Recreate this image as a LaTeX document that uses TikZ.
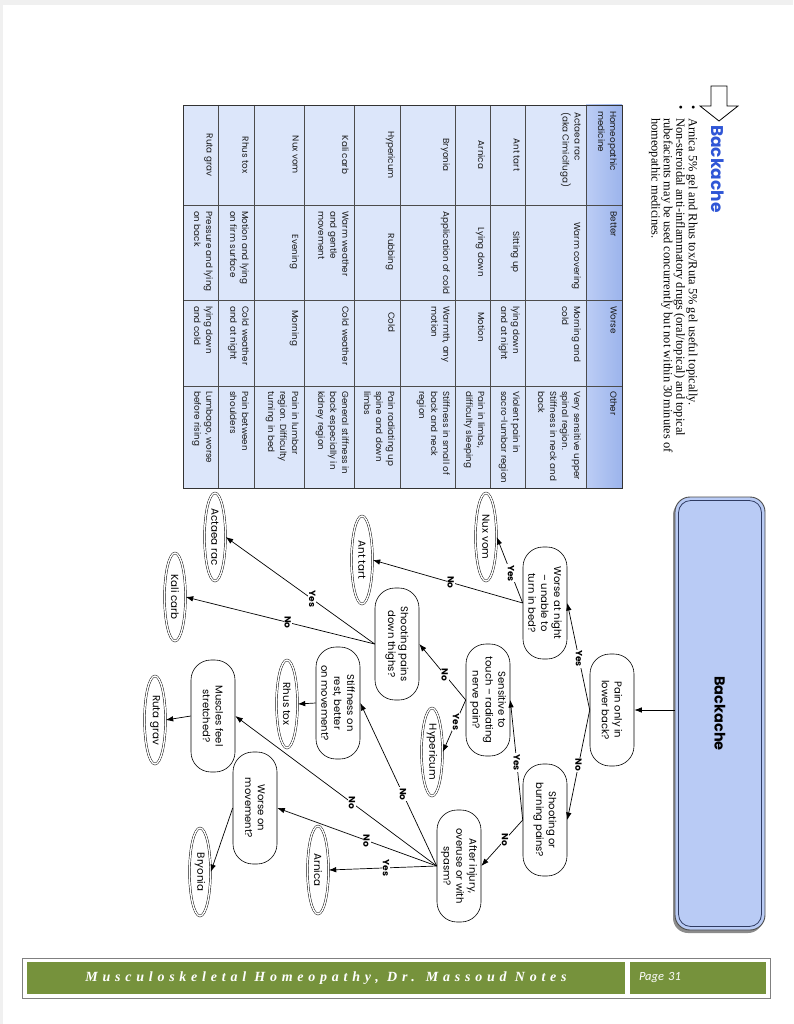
\documentclass[tikz,border=0pt]{standalone}
\usepackage{fontspec}
\setmainfont{Liberation Serif}
\newfontfamily\geo{Poppins}
\newfontfamily\footfont[LetterSpace=34]{Liberation Serif}
\newfontfamily\pagefont{Carlito}
\usetikzlibrary{arrows.meta,shapes.geometric,calc}
\definecolor{cellblue}{HTML}{DCE6FA}
\definecolor{headA}{HTML}{BCCDF5}
\definecolor{headB}{HTML}{9CB4EC}
\definecolor{panelblue}{HTML}{B9CBF5}
\definecolor{panelnavy}{HTML}{2F3B62}
\definecolor{headingblue}{HTML}{2F56D6}
\definecolor{footgreen}{HTML}{76923C}
\newcommand\tcl[4]{\node[tc,anchor=north west] (#1) at (#2,#3) {#4};}
\newcommand\tcc[4]{\node[tc,anchor=north] (#1) at (#2,#3) {#4};}
\tikzset{
  q/.style={draw, line width=0.6pt, fill=white, rounded corners=20pt, rotate=-90,
    minimum width=112pt, minimum height=44pt, inner sep=1pt, align=center,
    font=\geo\fontsize{10}{12.8}\selectfont},
  med/.style={ellipse, draw, line width=0.45pt, double, double distance=1.4pt, rotate=-90,
    minimum width=88pt, minimum height=21pt, inner sep=0pt,
    font=\geo\fontsize{10.3}{11}\selectfont},
  lab/.style={fill=white, inner sep=0.8pt, rotate=-90,
    font=\geo\bfseries\fontsize{9}{10}\selectfont},
  arr/.style={-{Latex[length=7.5pt,width=5.5pt]}, line width=0.7pt},
  tc/.style={rotate=-90, inner sep=0pt, align=left, text=black!90,
    font=\geo\fontsize{8.8}{12}\selectfont},
  bl/.style={rotate=-90, anchor=west, inner sep=0pt, font=\fontsize{12.4}{12.5}\selectfont}
}
\begin{document}
\begin{tikzpicture}[x=1pt,y=-1pt]
\useasboundingbox (0,0) rectangle (793,1024);
\fill[white] (0,0) rectangle (793,1024);
\fill[black!6] (0,0) rectangle (793,5);
\fill[black!6] (0,0) rectangle (3,1024);

% heading arrow and title
\draw[line width=0.8pt, fill=white] (711,86) -- (727,86) -- (727,106) -- (738,106)
  -- (719,121) -- (700,106) -- (711,106) -- cycle;
\node[rotate=-90, anchor=west, inner sep=0pt, text=headingblue,
  font=\geo\bfseries\fontsize{17}{20}\selectfont] (head) at (718,125) {Backache};

% bullets
\node[rotate=-90, inner sep=0pt, font=\fontsize{12}{12}\selectfont] (d1) at (692,108) {\textbullet};
\node[rotate=-90, inner sep=0pt, font=\fontsize{12}{12}\selectfont] (d2) at (679.5,108) {\textbullet};
\node[bl] (b1) at (692,118) {Arnica 5\% gel and Rhus tox/Ruta 5\% gel useful topically.};
\node[bl] (b2) at (679.5,118) {Non-steroidal anti-inflammatory drugs (oral/topical) and topical};
\node[bl] (b3) at (667,118) {rubefacients may be used concurrently but not within 30\,minutes of};
\node[bl] (b4) at (654.5,118) {homeopathic medicines.};

% table
\fill[cellblue] (183,105) rectangle (586,488);
\shade[left color=headA, right color=headB] (586,105) rectangle (622,488);
\foreach \xx in {218,254,304,354,400,455,490,525,586}
  \draw[black!70, line width=0.5pt] (\xx,105) -- (\xx,488);
\foreach \yy in {205,300,386}
  \draw[black!70, line width=0.5pt] (183,\yy) -- (622,\yy);
\draw[black!80, line width=0.8pt] (183,105) rectangle (622,488);

\tcl{h1}{617}{111}{Homeopathic\\medicine}
\tcl{h2}{617}{211}{Better}
\tcl{h3}{617}{306}{Worse}
\tcl{h4}{617}{391}{Other}
\tcl{a1}{581}{112}{Actaea rac\\(aka Cimicifuga)}
\tcc{a2}{581}{256}{Warm covering}
\tcl{a3}{581}{306}{Morning and\\cold}
\tcl{a4}{581}{391}{Very sensitive upper\\spinal region.\\Stiffness in neck and\\back}
\tcc{n1}{520}{155}{Ant tart}
\tcc{n2}{520}{252}{Sitting up}
\tcl{n3}{520}{306}{lying down\\and at night}
\tcl{n4}{520}{391}{Violent pain in\\sacro-lumbar region}
\tcc{r1}{485}{155}{Arnica}
\tcc{r2}{485}{252}{Lying down}
\tcl{r3}{485}{312}{Motion}
\tcl{r4}{485}{391}{Pain in limbs,\\difficulty sleeping}
\tcc{y1}{450}{155}{Bryonia}
\tcc{y2}{450}{253}{Application of cold}
\tcl{y3}{450}{306}{Warmth, any\\motion}
\tcl{y4}{450}{391}{Stiffness in small of\\back and neck\\region}
\tcc{p1}{395}{155}{Hypericum}
\tcc{p2}{395}{252}{Rubbing}
\tcl{p3}{395}{312}{Cold}
\tcl{p4}{395}{391}{Pain radiating up\\spine and down\\limbs}
\tcc{k1}{349}{155}{Kali carb}
\tcl{k2}{349}{211}{Warm weather\\and gentle\\movement}
\tcl{k3}{349}{306}{Cold weather}
\tcl{k4}{349}{391}{General stiffness in\\back especially in\\kidney region}
\tcc{x1}{299}{155}{Nux vom}
\tcc{x2}{299}{252}{Evening}
\tcl{x3}{299}{310}{Morning}
\tcl{x4}{299}{391}{Pain in lumbar\\region. Difficulty\\turning in bed}
\tcc{s1}{249}{155}{Rhus tox}
\tcl{s2}{249}{211}{Motion and lying\\on firm surface}
\tcl{s3}{249}{306}{Cold weather\\and at night}
\tcl{s4}{249}{391}{Pain between\\shoulders}
\tcc{g1}{213}{155}{Ruta grav}
\tcl{g2}{213}{211}{Pressure and lying\\on back}
\tcl{g3}{213}{306}{lying down\\and cold}
\tcl{g4}{213}{391}{Lumbago, worse\\before rising}

% panel
\fill[black!45, rounded corners=15pt] (673,500) rectangle (763,933);
\node (panel) [draw=black!70, line width=0.9pt, fill=panelblue, rounded corners=15pt,
  rotate=-90, minimum width=433pt, minimum height=90pt, inner sep=0pt,
  font=\geo\bfseries\fontsize{14.5}{16}\selectfont] at (720,713.5) {Backache};
\draw[panelnavy, line width=0.8pt, rounded corners=12pt]
  ($(panel.north west)+(-4,4)$) rectangle ($(panel.south east)+(4,-4)$);

% questions
\node[q] (q1) at (612,710) {Pain only in\\lower back?};
\node[q] (q2) at (545,603) {Worse at night\\– unable to\\turn in bed?};
\node[q] (q3) at (488,700) {Sensitive to\\touch – radiating\\nerve pain?};
\node[q] (q4) at (545,820) {Shooting or\\burning pains?};
\node[q] (q5) at (397,644) {Shooting pains\\down thighs?};
\node[q] (q6) at (338,703) {Stiffness on\\rest, better\\on movement?};
\node[q] (q7) at (459,866) {After injury,\\overuse or with\\spasm?};
\node[q] (q8) at (213,716) {Muscles feel\\stretched?};
\node[q] (q9) at (255,808) {Worse on\\movement?};

% medicines
\node[med] (nux) at (486,537) {Nux vom};
\node[med] (ant) at (362,560) {Ant tart};
\node[med] (hyp) at (432,752) {Hypericum};
\node[med] (act) at (215,537) {Actaea rac};
\node[med] (kali) at (175,597) {Kali carb};
\node[med] (rhus) at (287,704) {Rhus tox};
\node[med] (ruta) at (155,720) {Ruta grav};
\node[med] (arn) at (318,870) {Arnica};
\node[med] (bry) at (200,872) {Bryonia};

% connectors
\draw[arr] (panel.south |- q1.north) -- (q1.north);
\draw[arr] (q1.south) -- node[lab,pos=0.48]{Yes} (q2.north);
\draw[arr] (q1.south) -- node[lab,pos=0.5]{No} (q4.north);
\draw[arr] (q2.south) -- node[lab,pos=0.45]{Yes} (nux.north);
\draw[arr] (q2.south) -- node[lab,pos=0.48]{No} (ant.north);
\draw[arr] (q4.south) -- node[lab,pos=0.48]{Yes} (q3.north);
\draw[arr] (q4.south) -- node[lab,pos=0.43]{No} (q7.north);
\draw[arr] (q3.south) -- node[lab,pos=0.45]{No} (q5.north);
\draw[arr] (q3.south) -- node[lab,pos=0.42]{Yes} (hyp.north);
\draw[arr] (q5.south) -- node[lab,pos=0.42]{Yes} (act.north);
\draw[arr] (q5.south) -- node[lab,pos=0.46]{No} (kali.north);
\draw[arr] (q7.south) -- node[lab,pos=0.47]{Yes} (arn.north);
\draw[arr] (q7.south) -- node[lab,pos=0.44]{No} (q9.north);
\draw[arr] (q7.south) -- node[lab,pos=0.42]{No} (q8.north);
\draw[arr] (q7.south) -- node[lab,pos=0.44]{No} (q6.north);
\draw[arr] (q6.south) -- (rhus.north);
\draw[arr] (q8.south) -- (ruta.north);
\draw[arr] (q9.south) -- (bry.north);

% footer
\draw[black!50, line width=0.8pt] (22,958) rectangle (770,998);
\node[fill=footgreen, text=white, minimum width=598pt, minimum height=32pt, inner sep=0pt,
  font=\footfont\bfseries\itshape\fontsize{14}{16}\selectfont] (foot) at (326,978)
  {Musculoskeletal Homeopathy, Dr. Massoud Notes};
\node[fill=footgreen, text=white, minimum width=136pt, minimum height=32pt, inner xsep=9pt,
  text width=118pt, align=left, font=\pagefont\itshape\fontsize{12.5}{14}\selectfont] (pg) at (698,978)
  {Page 31};
\end{tikzpicture}
\end{document}
